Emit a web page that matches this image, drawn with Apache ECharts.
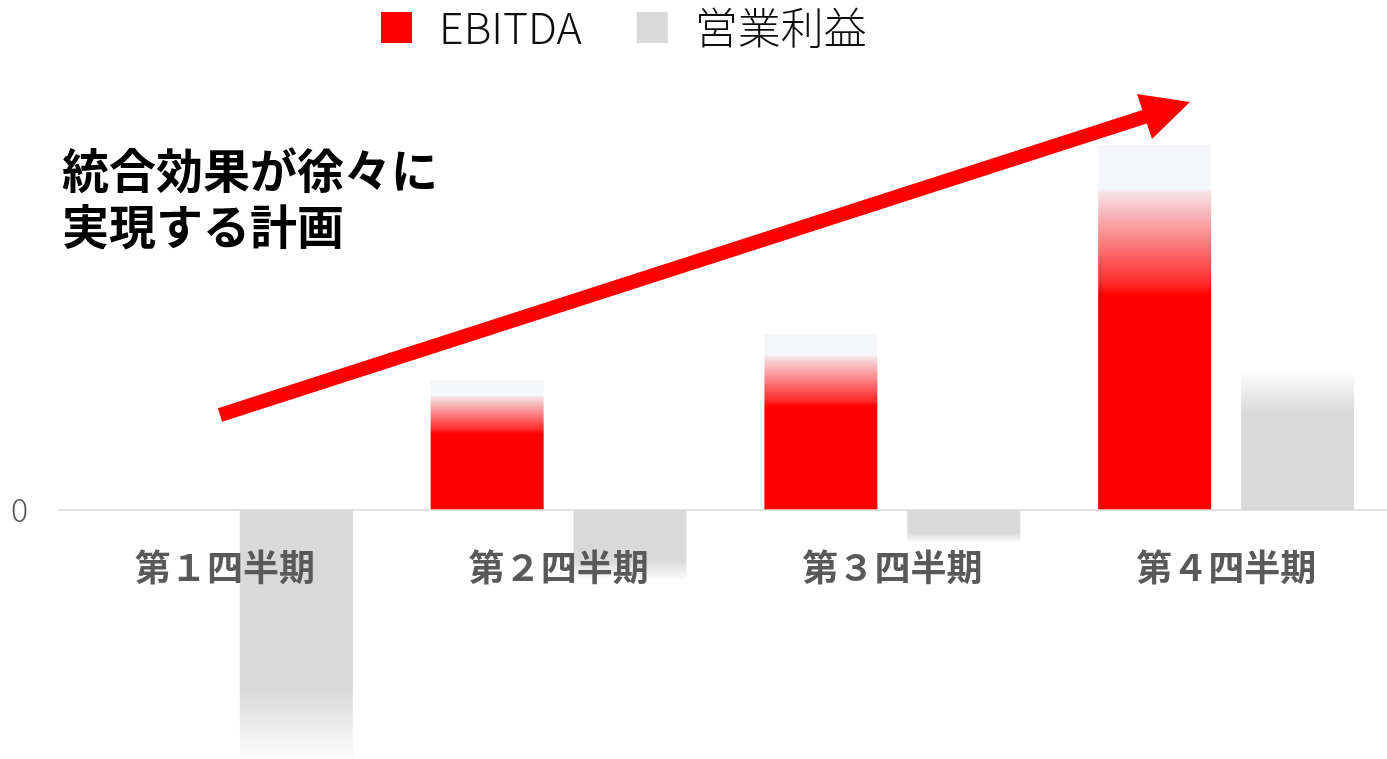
<!DOCTYPE html>
<html>
<head>
<meta charset="utf-8">
<script src="https://cdn.jsdelivr.net/npm/echarts@6/dist/echarts.min.js"></script>
<style>
  html, body { margin: 0; padding: 0; background: #fff; }
  #chart { width: 1387px; height: 759px; }
</style>
</head>
<body>
<div id="chart"></div>
<script>
  // values (arbitrary units, 0 = baseline)
  var quarters = ['第１四半期', '第２四半期', '第３四半期', '第４四半期'];
  var ebitda = [0, 130, 176, 365];
  var opProfit = [-250, -70, -32, 135];
  var seriesNames = ['EBITDA', '営業利益'];

  var RED = '#ff0000';
  var GRAY = '#d9d9d9';

  function redStyle(v) {
    return {
      color: {
        type: 'linear', x: 0, y: 0, x2: 0, y2: 1,
        colorStops: [
          { offset: 0, color: '#f5f6fa' },
          { offset: 0.12, color: '#f5f6fa' },
          { offset: 0.13, color: '#f6e2e6' },
          { offset: 0.38, color: '#ff2a2a' },
          { offset: 0.41, color: RED },
          { offset: 1, color: RED }
        ]
      }
    };
  }

  function grayStyle(v) {
    var stops = v >= 0
      ? [{ offset: 0, color: '#fbfbfb' }, { offset: 0.28, color: GRAY }, { offset: 1, color: GRAY }]
      : [{ offset: 0, color: GRAY }, { offset: 0.72, color: GRAY }, { offset: 1, color: '#fdfdfd' }];
    return {
      color: { type: 'linear', x: 0, y: 0, x2: 0, y2: 1, colorStops: stops }
    };
  }

  var chart = echarts.init(document.getElementById('chart'));
  chart.setOption({
    animation: false,
    legend: {
      left: 381,
      top: 6,
      padding: 0,
      itemWidth: 31,
      itemHeight: 31,
      itemGap: 55,
      icon: 'rect',
      data: seriesNames,
      textStyle: {
        fontSize: 43,
        color: '#0d0d0d',
        fontWeight: 300,
        fontFamily: '"Noto Sans CJK JP", "Noto Sans", sans-serif',
        padding: [0, 0, 0, 22]
      }
    },
    grid: { left: 58, right: -6, top: 10, bottom: -1, outerBoundsMode: 'none', containLabel: false },
    xAxis: {
      type: 'category',
      data: quarters,
      z: 10,
      axisTick: { show: false },
      axisLine: { onZero: true, lineStyle: { color: '#d9d9d9', width: 1.5 } },
      axisLabel: {
        // labels stay at the grid bottom, pull them up under the zero line
        margin: -211,
        fontSize: 36,
        fontWeight: 'bold',
        color: '#595959',
        fontFamily: '"Noto Sans CJK JP", sans-serif'
      }
    },
    yAxis: {
      type: 'value',
      min: -250,
      max: 500,
      interval: 250,
      splitLine: { show: false },
      axisLine: { show: false },
      axisTick: { show: false },
      axisLabel: {
        margin: 30,
        fontSize: 32,
        fontWeight: 300,
        color: '#595959',
        fontFamily: '"Noto Sans CJK JP", "Noto Sans", sans-serif',
        formatter: function (v) { return v === 0 ? '0' : ''; }
      }
    },
    series: [{
      name: seriesNames[0],
      type: 'bar',
      barWidth: 113,
      barGap: '26.5%',
      itemStyle: { color: RED },
      data: ebitda.map(function (v) { return { value: v, itemStyle: redStyle(v) }; })
    }, {
      name: seriesNames[1],
      type: 'bar',
      barWidth: 113,
      barGap: '26.5%',
      itemStyle: { color: GRAY },
      data: opProfit.map(function (v) { return { value: v, itemStyle: grayStyle(v) }; })
    }],
    graphic: [{
      type: 'text',
      left: 62,
      top: 142,
      z: 100,
      style: {
        text: '統合効果が徐々に\n実現する計画',
        fontSize: 47,
        lineHeight: 56,
        fontWeight: 'bold',
        fill: '#000',
        fontFamily: '"Noto Sans CJK JP", sans-serif'
      }
    }, {
      type: 'polyline',
      z: 100,
      shape: { points: [[220, 415], [1147, 116]] },
      style: { stroke: RED, lineWidth: 14, lineCap: 'butt', fill: null }
    }, {
      type: 'polygon',
      z: 100,
      shape: { points: [[1190, 102], [1137, 94], [1152, 139]] },
      style: { fill: RED }
    }]
  });
</script>
</body>
</html>
